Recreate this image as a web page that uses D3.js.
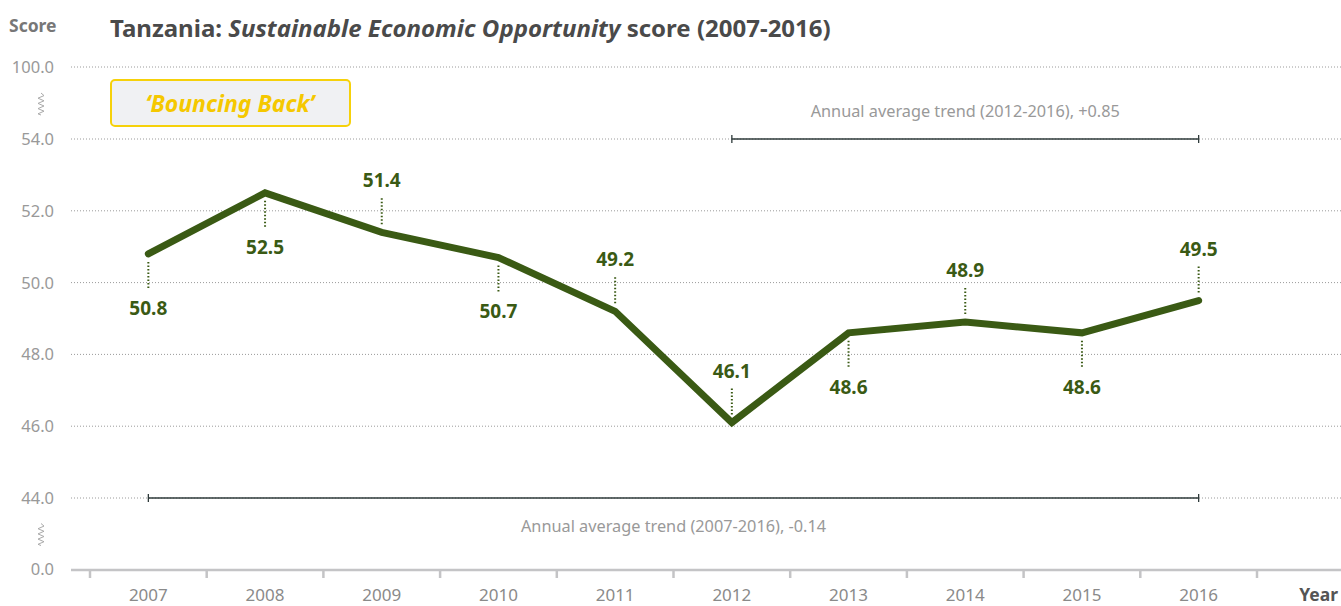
<!DOCTYPE html>
<html>
<head>
<meta charset="utf-8">
<script src="https://cdn.jsdelivr.net/npm/d3@7"></script>
<style>
  body { margin: 0; background: #fff; }
  svg { display: block; font-family: "Noto Sans", "Open Sans", sans-serif; }
</style>
</head>
<body>
<svg id="chart" width="1341" height="606"></svg>
<script>
(function () {
    'use strict';

    var years = ['2007', '2008', '2009', '2010', '2011', '2012', '2013', '2014', '2015', '2016'];
    var scores = [50.8, 52.5, 51.4, 50.7, 49.2, 46.1, 48.6, 48.9, 48.6, 49.5];
    // 1 = label above the point, -1 = below
    var labelSide = [-1, -1, 1, -1, 1, 1, -1, 1, -1, 1];
    var yTicks = [0, 44, 46, 48, 50, 52, 54, 100];
    var trends = [
        { from: '2012', to: '2016', at: 54, text: 'Annual average trend (2012-2016), +0.85', dy: -22 },
        { from: '2007', to: '2016', at: 44, text: 'Annual average trend (2007-2016), -0.14', dy: 34 }
    ];
    var breaks = [[54, 100], [0, 44]];

    var green = '#3a5a14';
    var svg = d3.select('#chart');

    // broken axis: 0-44 and 54-100 squeezed into one step each
    var y = d3.scaleLinear().domain([0, 44, 54, 100]).range([569, 498, 139, 67]);
    var x = d3.scaleBand().domain(years).range([90, 1257]);
    var cx = function (d) { return x(d) + x.bandwidth() / 2; };

    // grid
    svg.append('g').selectAll('line')
        .data(yTicks.filter(function (d) { return d > 0; }))
        .enter().append('line')
        .attr('x1', 71).attr('x2', 1341)
        .attr('y1', function (d) { return y(d); })
        .attr('y2', function (d) { return y(d); })
        .attr('stroke', '#9a9a9a')
        .attr('stroke-width', 1)
        .attr('stroke-dasharray', '1,2');

    // y labels
    svg.append('g').selectAll('text')
        .data(yTicks)
        .enter().append('text')
        .attr('x', 54)
        .attr('y', function (d) { return y(d) + 6; })
        .attr('text-anchor', 'end')
        .attr('font-size', 16.5)
        .attr('fill', '#999')
        .text(function (d) { return d.toFixed(1); });

    // axis break squiggles
    svg.append('g').selectAll('path')
        .data(breaks)
        .enter().append('path')
        .attr('d', function (d) {
            var mid = (y(d[0]) + y(d[1])) / 2 + 1, p = 'M41,' + (mid - 11);
            for (var i = 1; i <= 8; i++) {
                p += ' L' + (i % 2 ? 44 : 38) + ',' + (mid - 11 + i * 2.6);
            }
            return p + ' L41,' + (mid + 11);
        })
        .attr('fill', 'none')
        .attr('stroke', '#aaa')
        .attr('stroke-width', 1);

    svg.append('text')
        .attr('x', 9).attr('y', 32)
        .attr('font-size', 17.5).attr('font-weight', 'bold')
        .attr('fill', '#777')
        .text('Score');

    var title = svg.append('text')
        .attr('x', 110).attr('y', 37)
        .attr('font-size', 24).attr('font-weight', 'bold')
        .attr('fill', '#4a4a4a');
    title.append('tspan').text('Tanzania: ');
    title.append('tspan').attr('font-style', 'italic').text('Sustainable Economic Opportunity');
    title.append('tspan').text(' score (2007-2016)');

    // x axis
    var ax = svg.append('g');
    ax.append('line')
        .attr('x1', 71).attr('x2', 1341)
        .attr('y1', 570).attr('y2', 570)
        .attr('stroke', '#c4c4c6').attr('stroke-width', 2.5);
    var bounds = years.map(function (d) { return x(d); }).concat([x(years[years.length - 1]) + x.bandwidth()]);
    ax.selectAll('.tick')
        .data(bounds)
        .enter().append('line')
        .attr('x1', function (d) { return d; })
        .attr('x2', function (d) { return d; })
        .attr('y1', 570).attr('y2', 578)
        .attr('stroke', '#c4c4c6').attr('stroke-width', 2.5);
    ax.selectAll('text')
        .data(years)
        .enter().append('text')
        .attr('x', cx).attr('y', 601)
        .attr('text-anchor', 'middle')
        .attr('font-size', 17).attr('fill', '#8a8a8a')
        .text(function (d) { return d; });
    ax.append('text')
        .attr('x', 1338).attr('y', 601)
        .attr('text-anchor', 'end')
        .attr('font-size', 17.5).attr('font-weight', 'bold')
        .attr('fill', '#555')
        .text('Year');

    // trend bars
    var tg = svg.append('g').selectAll('g')
        .data(trends)
        .enter().append('g');
    tg.append('line')
        .attr('x1', function (d) { return cx(d.from); })
        .attr('x2', function (d) { return cx(d.to); })
        .attr('y1', function (d) { return y(d.at); })
        .attr('y2', function (d) { return y(d.at); })
        .attr('stroke', '#2f3b3b').attr('stroke-width', 1.3);
    tg.selectAll('.end')
        .data(function (d) { return [d.from, d.to].map(function (k) { return { k: k, at: d.at }; }); })
        .enter().append('line')
        .attr('x1', function (d) { return cx(d.k); })
        .attr('x2', function (d) { return cx(d.k); })
        .attr('y1', function (d) { return y(d.at) - 4; })
        .attr('y2', function (d) { return y(d.at) + 4; })
        .attr('stroke', '#2f3b3b').attr('stroke-width', 1.3);
    tg.append('text')
        .attr('x', function (d) { return (cx(d.from) + cx(d.to)) / 2; })
        .attr('y', function (d) { return y(d.at) + d.dy; })
        .attr('text-anchor', 'middle')
        .attr('font-size', 16.3).attr('fill', '#999')
        .text(function (d) { return d.text; });

    // Bouncing Back badge
    svg.append('rect')
        .attr('x', 111).attr('y', 80)
        .attr('width', 239).attr('height', 46)
        .attr('rx', 4)
        .attr('fill', '#f0f1f3')
        .attr('stroke', '#f6d10a').attr('stroke-width', 2);
    svg.append('text')
        .attr('x', 230).attr('y', 112)
        .attr('text-anchor', 'middle')
        .attr('font-size', 23).attr('font-weight', 'bold').attr('font-style', 'italic')
        .attr('fill', '#f5c800')
        .text('\u2018Bouncing Back\u2019');

    // score line
    var pts = years.map(function (d, i) { return { year: d, v: scores[i], side: labelSide[i] }; });
    svg.append('path')
        .datum(pts)
        .attr('d', d3.line().x(function (d) { return cx(d.year); }).y(function (d) { return y(d.v); }))
        .attr('fill', 'none')
        .attr('stroke', green)
        .attr('stroke-width', 7)
        .attr('stroke-linejoin', 'miter')
        .attr('stroke-linecap', 'round');

    var lab = svg.append('g').selectAll('g')
        .data(pts)
        .enter().append('g');
    lab.append('line')
        .attr('x1', function (d) { return cx(d.year); })
        .attr('x2', function (d) { return cx(d.year); })
        .attr('y1', function (d) { return y(d.v) - d.side * 8; })
        .attr('y2', function (d) { return y(d.v) - d.side * 34; })
        .attr('stroke', green).attr('stroke-width', 2)
        .attr('stroke-dasharray', '1.5,2');
    lab.append('text')
        .attr('x', function (d) { return cx(d.year); })
        .attr('y', function (d) { return d.side > 0 ? y(d.v) - 45 : y(d.v) + 61; })
        .attr('text-anchor', 'middle')
        .attr('font-size', 19).attr('font-weight', 'bold')
        .attr('fill', green)
        .text(function (d) { return d.v.toFixed(1); });
}());
</script>
</body>
</html>
